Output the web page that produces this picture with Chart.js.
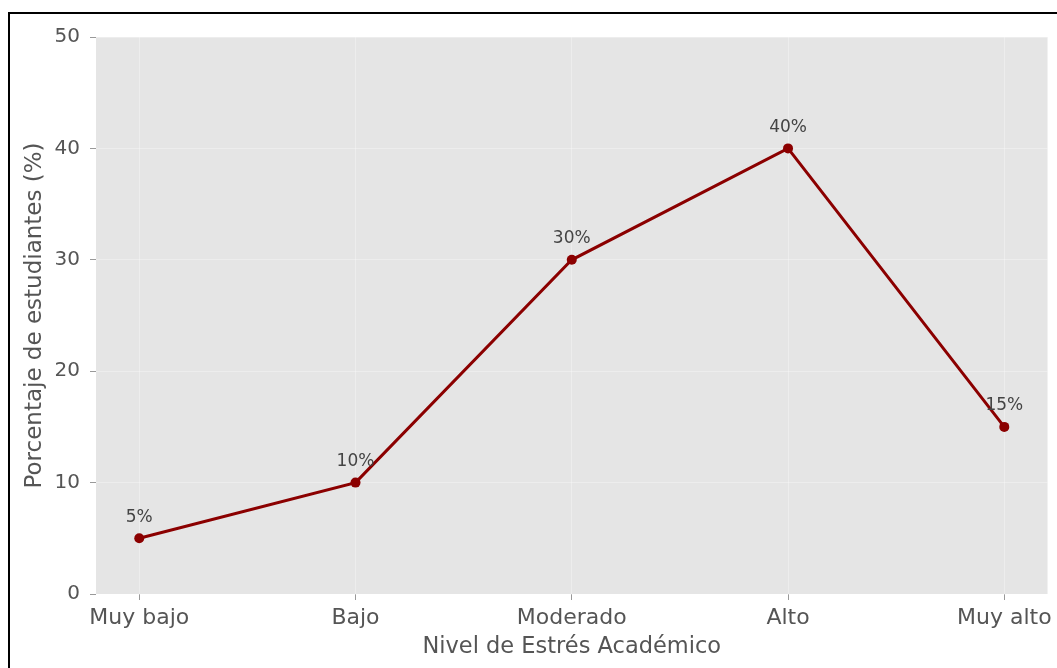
<!DOCTYPE html>
<html>
<head>
<meta charset="utf-8">
<script src="https://cdn.jsdelivr.net/npm/chart.js@4/dist/chart.umd.min.js"></script>
<style>
  html, body { margin: 0; padding: 0; background: #ffffff; }
  #wrap { position: absolute; left: 0; top: 0; width: 1057px; height: 668px; }
  #frame { position: absolute; left: 8px; top: 12px; width: 1049px; height: 656px;
           border-left: 2px solid #000; border-top: 2px solid #000; box-sizing: border-box; pointer-events: none; }
</style>
</head>
<body>
<div id="wrap">
  <canvas id="c" width="1057" height="668"></canvas>
  <div id="frame"></div>
</div>
<script>
const categories = ["Muy bajo", "Bajo", "Moderado", "Alto", "Muy alto"];
const percentages = [5, 10, 30, 40, 15];
const yTicks = [0, 10, 20, 30, 40, 50];
const xTitle = "Nivel de Estrés Académico";
const yTitle = "Porcentaje de estudiantes (%)";

const FONT = "'DejaVu Sans', sans-serif";

const bgPlugin = {
  id: 'bg',
  beforeDraw(chart) {
    const {ctx, chartArea: a} = chart;
    ctx.save();
    ctx.fillStyle = '#E5E5E5';
    ctx.fillRect(a.left, a.top, a.right - a.left, a.bottom - a.top);
    ctx.restore();
  }
};

const labelPlugin = {
  id: 'pointLabels',
  afterDatasetsDraw(chart) {
    const {ctx} = chart;
    const meta = chart.getDatasetMeta(0);
    ctx.save();
    ctx.font = "17px " + FONT;
    ctx.fillStyle = '#444444';
    ctx.textAlign = 'center';
    ctx.textBaseline = 'middle';
    meta.data.forEach((pt, i) => {
      ctx.fillText(percentages[i] + '%', pt.x, pt.y - 21);
    });
    ctx.restore();
  }
};

new Chart(document.getElementById('c'), {
  type: 'line',
  data: {
    datasets: [{
      data: percentages.map((v, i) => ({x: i, y: v})),
      borderColor: '#8B0000',
      backgroundColor: '#8B0000',
      borderWidth: 3,
      pointRadius: 5,
      pointBackgroundColor: '#8B0000',
      pointBorderColor: '#8B0000',
      pointBorderWidth: 0,
      tension: 0,
      fill: false
    }]
  },
  options: {
    responsive: false,
    animation: false,
    devicePixelRatio: 1,
    layout: { padding: { top: 37, right: 9, left: 0, bottom: 0 } },
    plugins: { legend: { display: false }, tooltip: { enabled: false } },
    scales: {
      x: {
        type: 'linear',
        min: -0.2,
        max: 4.2,
        afterBuildTicks(scale) { scale.ticks = categories.map((c, i) => ({value: i})); },
        afterFit(scale) { scale.height = 74; },
        ticks: {
          autoSkip: false, maxRotation: 0, minRotation: 0,
          padding: 5,
          color: '#555555',
          font: { family: FONT, size: 22 },
          callback: (v) => categories[v]
        },
        grid: { color: 'rgba(255,255,255,0.3)', lineWidth: 1, tickLength: 6, tickColor: '#999999', tickWidth: 1 },
        border: { display: false },
        title: {
          display: true, text: xTitle, color: '#555555',
          font: { family: FONT, size: 22.5 },
          padding: { top: 7.5, bottom: 7.5 }
        }
      },
      y: {
        type: 'linear',
        min: 0,
        max: 50,
        afterBuildTicks(scale) { scale.ticks = yTicks.map(v => ({value: v})); },
        afterFit(scale) { scale.width = 96; },
        ticks: {
          padding: 10,
          color: '#555555',
          font: { family: FONT, size: 20 }
        },
        grid: { color: 'rgba(255,255,255,0.3)', lineWidth: 1, tickLength: 6, tickColor: '#999999', tickWidth: 1 },
        border: { display: false },
        title: {
          display: true, text: yTitle, color: '#555555',
          font: { family: FONT, size: 23 },
          padding: { top: 21, bottom: 21 }
        }
      }
    }
  },
  plugins: [bgPlugin, labelPlugin]
});
</script>
</body>
</html>
